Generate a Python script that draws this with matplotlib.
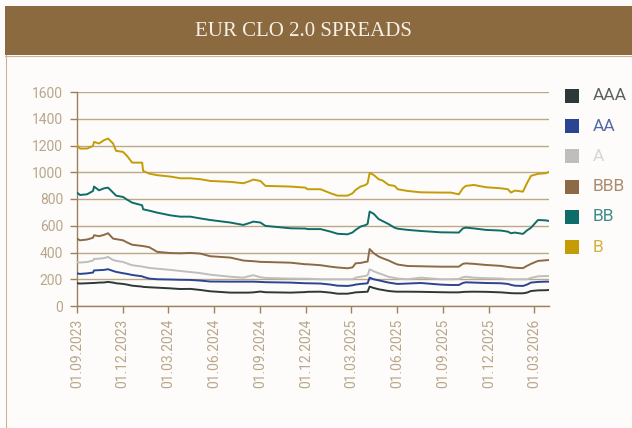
import matplotlib
matplotlib.use("Agg")
import matplotlib.pyplot as plt
import matplotlib.dates as mdates
from matplotlib.patches import Rectangle
import pandas as pd

# dates sampled along the chart
dates = [
    "2023-09-01", "2023-09-07", "2023-09-21", "2023-10-03", "2023-10-05", "2023-10-15",
    "2023-10-25", "2023-11-02", "2023-11-12", "2023-11-18", "2023-12-02", "2023-12-10",
    "2023-12-20", "2024-01-09", "2024-01-11", "2024-01-23", "2024-02-08", "2024-03-05",
    "2024-03-25", "2024-04-14", "2024-05-04", "2024-05-24", "2024-07-03", "2024-07-29",
    "2024-08-08", "2024-08-18", "2024-09-01", "2024-09-11", "2024-10-31", "2024-11-30",
    "2024-12-04", "2024-12-30", "2025-01-19", "2025-02-02", "2025-02-22", "2025-03-04",
    "2025-03-10", "2025-03-20", "2025-03-30", "2025-04-03", "2025-04-07", "2025-04-15",
    "2025-04-25", "2025-05-03", "2025-05-15", "2025-05-27", "2025-06-02", "2025-06-22",
    "2025-07-18", "2025-08-27", "2025-09-16", "2025-10-02", "2025-10-10", "2025-10-16",
    "2025-11-01", "2025-11-25", "2025-12-25", "2026-01-08", "2026-01-14", "2026-01-22",
    "2026-02-07", "2026-02-15", "2026-02-23", "2026-03-09", "2026-03-25", "2026-03-31",
]

aaa = [170, 168, 170, 172, 172, 175, 176, 180, 175, 170, 165, 160,
       152, 145, 143, 140, 137, 132, 127, 128, 120, 110, 100, 100,
       100, 102, 108, 103, 100, 104, 106, 107, 100, 92, 92, 98,
       102, 104, 106, 107, 145, 135, 125, 120, 112, 108, 107, 107,
       106, 103, 102, 102, 105, 106, 107, 106, 102, 98, 96, 95,
       95, 100, 112, 117, 118, 120]

aa = [244, 240, 244, 250, 266, 268, 270, 275, 262, 255, 245, 240,
      232, 222, 218, 205, 200, 198, 196, 195, 190, 183, 182, 182,
      182, 182, 180, 178, 175, 170, 170, 168, 160, 152, 150, 155,
      160, 165, 168, 170, 212, 200, 192, 185, 175, 168, 165, 168,
      172, 160, 157, 157, 172, 177, 175, 172, 170, 165, 158, 152,
      150, 160, 175, 180, 182, 182]

a = [329, 325, 329, 340, 352, 354, 358, 367, 344, 338, 329, 318,
     305, 295, 293, 285, 279, 270, 262, 254, 246, 234, 219, 212,
     222, 230, 215, 210, 205, 204, 204, 200, 200, 200, 200, 200,
     212, 219, 225, 230, 274, 260, 245, 235, 218, 210, 205, 200,
     212, 200, 200, 202, 215, 219, 212, 208, 205, 200, 200, 200,
     200, 200, 210, 222, 224, 224]

bbb = [504, 491, 497, 510, 529, 522, 532, 544, 504, 500, 491, 475,
       458, 449, 448, 440, 405, 396, 394, 397, 392, 372, 362, 340,
       337, 335, 330, 329, 324, 312, 312, 305, 294, 288, 282, 289,
       319, 322, 330, 332, 426, 395, 370, 357, 340, 319, 310, 299,
       297, 294, 294, 294, 315, 319, 315, 307, 300, 292, 289, 286,
       283, 300, 315, 337, 342, 344]

bb = [848, 830, 835, 860, 893, 865, 880, 885, 848, 825, 815, 795,
      773, 753, 723, 713, 698, 678, 668, 668, 655, 643, 624, 606,
      618, 631, 624, 599, 581, 579, 575, 575, 556, 540, 536, 550,
      569, 594, 605, 614, 706, 690, 650, 635, 612, 585, 578, 569,
      561, 551, 550, 549, 580, 586, 580, 569, 564, 556, 544, 549,
      539, 565, 585, 643, 640, 636]

b = [1202, 1177, 1177, 1197, 1227, 1215, 1240, 1252, 1215, 1160, 1152, 1122,
     1072, 1072, 1010, 990, 978, 968, 955, 955, 948, 935, 928, 918,
     930, 945, 935, 898, 893, 885, 873, 873, 843, 825, 825, 843,
     868, 893, 905, 918, 995, 980, 948, 938, 905, 898, 873, 860,
     850, 848, 848, 835, 880, 898, 905, 888, 880, 873, 848, 863,
     855, 918, 973, 988, 993, 1003]

labels = ["AAA", "AA", "A", "BBB", "BB", "B"]
series = [aaa, aa, a, bbb, bb, b]
colors = ["#2D3838", "#2A4592", "#BEBEBE", "#8B6A45", "#0E6D68", "#C49C05"]
text_colors = ["#5C6262", "#5469AA", "#D6D6D6", "#AA8C6C", "#3F8C88", "#D4B040"]

bg = "#FDFCFA"
tan = "#B9A68C"
axis_col = "#9C8060"
grid_col = "#BDA788"

fig = plt.figure(figsize=(6.32, 4.28), dpi=100)
fig.patch.set_facecolor(bg)
W, H = 632, 428

# header band and panel border
fig.patches.append(Rectangle((5 / W, 1 - 55 / H), 1, 49 / H, transform=fig.transFigure,
                             facecolor="#8C6A3F", edgecolor="none", zorder=0))
fig.add_artist(plt.Line2D([5 / W, 1], [1 - 55.5 / H] * 2, transform=fig.transFigure,
                          color="#C9B497", lw=0.8))
fig.add_artist(plt.Line2D([5.5 / W] * 2, [0, 1 - 55 / H], transform=fig.transFigure,
                          color="#C9B497", lw=0.8))
fig.text(303 / W, 1 - 32 / H, "EUR CLO 2.0 SPREADS", ha="center", va="center",
         fontsize=15, family="Liberation Serif", color="#F6F0E6")

ax = fig.add_axes([77 / W, 1 - 306 / H, 472 / W, 214 / H])
ax.set_facecolor(bg)

x = pd.to_datetime(dates)
for vals, col in zip(series, colors):
    ax.plot(x, vals, color=col, lw=1.4, zorder=3)

ax.set_ylim(0, 1600)
ax.set_yticks(range(0, 1601, 200))
ax.set_xlim(pd.Timestamp("2023-09-01"), pd.Timestamp("2026-03-31"))
ax.xaxis.set_major_locator(mdates.MonthLocator(bymonth=[3, 6, 9, 12], bymonthday=1))
ax.xaxis.set_major_formatter(mdates.DateFormatter("%d.%m.%Y"))

ax.yaxis.grid(True, color=grid_col, lw=1.0, zorder=1)
ax.set_axisbelow(True)
for s in ["top", "right"]:
    ax.spines[s].set_visible(False)
for s in ["left", "bottom"]:
    ax.spines[s].set_color(axis_col)
    ax.spines[s].set_linewidth(1.0)

ax.tick_params(axis="y", length=5, width=1, color=axis_col, pad=5,
               labelcolor=tan, labelsize=10)
ax.tick_params(axis="x", length=5, width=1, color=axis_col, pad=4,
               labelcolor=tan, labelsize=10, labelrotation=90)
for lab in ax.get_xticklabels() + ax.get_yticklabels():
    lab.set_family("Roboto")

# legend on the right
for i, (name, col, tcol) in enumerate(zip(labels, colors, text_colors)):
    yc = 96 + 30.2 * i
    fig.patches.append(Rectangle((565 / W, 1 - (yc + 7) / H), 14 / W, 14 / H,
                                 transform=fig.transFigure, facecolor=col,
                                 edgecolor="none"))
    fig.text(593 / W, 1 - yc / H, name, ha="left", va="center", fontsize=12.5,
             family="Roboto", color=tcol)

fig.savefig("out.png", dpi=100, facecolor=bg)
